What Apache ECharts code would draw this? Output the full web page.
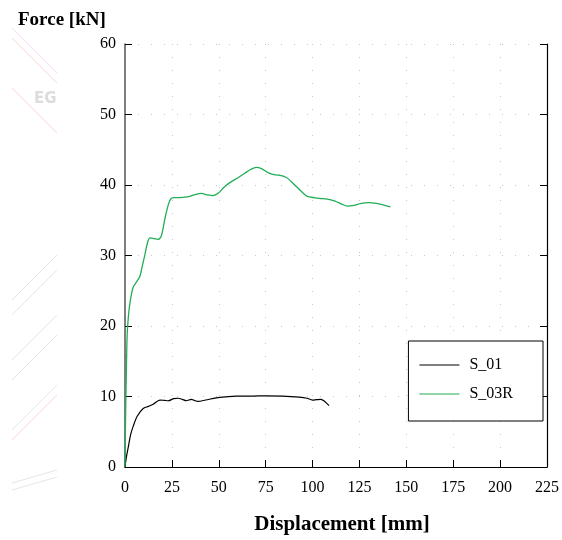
<!DOCTYPE html>
<html><head><meta charset="utf-8">
<script src="https://cdn.jsdelivr.net/npm/echarts@6/dist/echarts.min.js"></script>
<style>html,body{margin:0;padding:0;background:#fff}#c{width:562px;height:540px}</style>
</head><body><div id="c"></div>
<script>
const xTicks = [0,25,50,75,100,125,150,175,200,225];
const yTicks = [0,10,20,30,40,50,60];
const seriesNames = ['S_01','S_03R'];
const s01 = [[0,0],[0.6,1.2],[1.8,2.9],[3,4.6],[4.4,5.8],[6.5,7.2],[9.7,8.3],[12.5,8.6],[15,8.9],[18.6,9.5],[21,9.45],[23,9.4],[26,9.7],[28.3,9.75],[30.5,9.6],[32.7,9.4],[35.4,9.6],[37,9.45],[38.9,9.3],[43,9.5],[48.7,9.8],[54,9.95],[59.3,10.05],[67,10.05],[75.2,10.1],[84,10.05],[92.9,9.9],[97,9.75],[100,9.5],[102,9.55],[104.4,9.6],[106.5,9.3],[108.8,8.7]];
const s03r = [[0,0],[0.3,7],[0.7,13],[1.2,19],[2.3,22.6],[3.5,24.6],[4.5,25.6],[5.3,25.9],[6.5,26.4],[8,27.1],[9.3,28.6],[10.6,30.1],[12,31.8],[13.3,32.5],[15.5,32.4],[17.7,32.3],[19.5,32.9],[21.5,35.5],[23.9,37.8],[26,38.2],[29,38.2],[33,38.3],[37,38.6],[40.7,38.8],[44,38.6],[46.9,38.5],[50,38.9],[52.5,39.6],[55.7,40.3],[60,41.0],[64,41.7],[67,42.2],[69.9,42.5],[73,42.3],[76,41.8],[78.7,41.5],[82,41.4],[85.8,41.1],[89,40.4],[92.5,39.5],[96.4,38.5],[98.2,38.3],[103.5,38.1],[107.9,38.0],[112,37.7],[115.5,37.3],[118.5,37.0],[122,37.1],[126,37.4],[130,37.5],[134,37.4],[138,37.15],[141.5,36.9]];
const colors = ['#000000','#1fae55'];

const chart = echarts.init(document.getElementById('c'), null, {renderer:'canvas'});
const serif = '"Liberation Serif","Times New Roman",serif';
const splitLine = {show:true, lineStyle:{color:'#c8c8c8', type:[1,12], width:1}};
const wm = '#e6e6e6', wmr = '#fbd5d5';
chart.setOption({
  animation:false,
  backgroundColor:'#fff',
  graphic:[
    {type:'line', shape:{x1:12,y1:38,x2:57,y2:83}, style:{stroke:wmr,lineWidth:1}, silent:true},
    {type:'line', shape:{x1:12,y1:28,x2:57,y2:73}, style:{stroke:'#f6dcf6',lineWidth:1}, silent:true},
    {type:'line', shape:{x1:12,y1:88,x2:57,y2:133}, style:{stroke:wmr,lineWidth:1}, silent:true},
    {type:'text', left:34, top:92, style:{text:'EG', fill:'#dcdcdc', font:'bold 15px "DejaVu Sans",sans-serif'}, silent:true},
    {type:'line', shape:{x1:12,y1:300,x2:57,y2:255}, style:{stroke:wm,lineWidth:1}, silent:true},
    {type:'line', shape:{x1:12,y1:315,x2:57,y2:270}, style:{stroke:wm,lineWidth:1}, silent:true},
    {type:'line', shape:{x1:12,y1:360,x2:57,y2:315}, style:{stroke:wm,lineWidth:1}, silent:true},
    {type:'line', shape:{x1:12,y1:380,x2:57,y2:335}, style:{stroke:wm,lineWidth:1}, silent:true},
    {type:'line', shape:{x1:12,y1:430,x2:57,y2:385}, style:{stroke:wm,lineWidth:1}, silent:true},
    {type:'line', shape:{x1:12,y1:440,x2:57,y2:395}, style:{stroke:wmr,lineWidth:1}, silent:true},
    {type:'line', shape:{x1:12,y1:483,x2:57,y2:470}, style:{stroke:wm,lineWidth:1}, silent:true},
    {type:'line', shape:{x1:12,y1:490,x2:57,y2:477}, style:{stroke:wm,lineWidth:1}, silent:true}
  ],
  title:{text:'Force [kN]', left:13, top:6, textStyle:{fontFamily:serif, fontWeight:'bold', fontSize:19, color:'#000'}},
  grid:{left:125, right:13, top:44, bottom:69, containLabel:false},
  legend:{
    data:seriesNames, orient:'vertical', right:19, top:341,
    width:110, padding:[16,30,19,11], itemGap:13, itemWidth:40, itemHeight:14,
    borderColor:'#000', borderWidth:1, backgroundColor:'#fff',
    icon:'path://M0,0 L40,0 L40,1 L0,1 Z',
    textStyle:{fontFamily:serif, fontSize:16, color:'#000', padding:[0,0,0,5]}
  },
  xAxis:[{
    type:'value', min:0, max:225, interval:25,
    name:'Displacement [mm]', nameLocation:'middle', nameGap:47,
    nameTextStyle:{fontFamily:serif, fontWeight:'bold', fontSize:21, color:'#000', padding:[0,0,0,12]},
    axisLine:{show:true, onZero:false, lineStyle:{color:'#000', width:1.2}},
    axisTick:{show:true, inside:true, length:7, lineStyle:{color:'#000'}},
    axisLabel:{fontFamily:serif, fontSize:16, color:'#000', margin:13,
      formatter:v=>xTicks.includes(v)?String(v):''},
    splitLine:splitLine
  }],
  yAxis:[{
    type:'value', min:0, max:60, interval:10,
    axisLine:{show:true, onZero:false, lineStyle:{color:'#555', width:1.5}},
    axisTick:{show:true, inside:true, length:7, lineStyle:{color:'#000'}},
    axisLabel:{fontFamily:serif, fontSize:16, color:'#000', margin:9,
      formatter:v=>yTicks.includes(v)?String(v):''},
    splitLine:splitLine
  },{
    type:'value', min:0, max:60, interval:10, position:'right',
    axisLine:{show:true, onZero:false, lineStyle:{color:'#000', width:1.2}},
    axisTick:{show:true, inside:true, length:7, lineStyle:{color:'#000'}},
    axisLabel:{show:false}, splitLine:{show:false}
  }],
  series:[
    {name:seriesNames[0], type:'line', data:s01, smooth:0.3, showSymbol:false, color:colors[0], lineStyle:{width:1.2, color:colors[0]}},
    {name:seriesNames[1], type:'line', data:s03r, smooth:0.3, showSymbol:false, color:colors[1], lineStyle:{width:1.3, color:colors[1]}}
  ]
});
</script></body></html>
